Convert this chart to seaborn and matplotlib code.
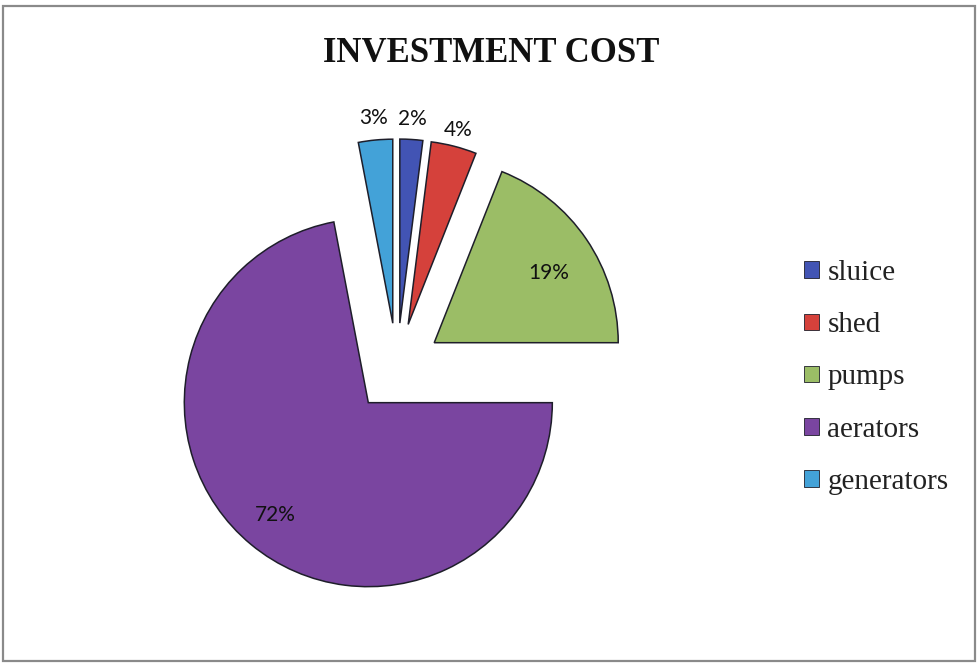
import matplotlib
matplotlib.use("Agg")
import matplotlib.pyplot as plt
from matplotlib.patches import Rectangle, Patch
import numpy as np
import seaborn as sns

# Share of the investment cost by item
items = ["sluice", "shed", "pumps", "aerators", "generators"]
shares = [2, 4, 19, 72, 3]
pct_labels = ["2%", "4%", "19%", "72%", "3%"]
colors = ["#4254B4", "#D5413B", "#9BBD66", "#7A45A0", "#43A2D8"]

sns.set_theme(style="white")
plt.rcParams["font.family"] = ["Liberation Serif", "DejaVu Serif"]

W, H = 980, 665
fig = plt.figure(figsize=(W / 100, H / 100), dpi=100)
ax = fig.add_axes([0, 0, 1, 1])

palette = sns.color_palette(colors)
radius = 184
offset = 45  # explode distance, in the same units as the radius
wedges, _ = ax.pie(
    shares,
    colors=palette,
    startangle=90,
    counterclock=False,
    radius=radius,
    center=(397, H - 368),
    explode=[offset] * len(shares),
    wedgeprops=dict(edgecolor="#1e1e2a", linewidth=1.1),
    frame=True,
)
ax.set_xlim(0, W)
ax.set_ylim(0, H)
ax.set_aspect("equal")
ax.axis("off")

# percentage labels: small slices outside, large ones inside
label_dist = [1.11, 1.09, 0.73, 0.79, 1.12]
label_turn = [0, 0, -3, 0, 0]  # small angular nudge (degrees)
for w, txt, f, t in zip(wedges, pct_labels, label_dist, label_turn):
    mid = np.deg2rad((w.theta1 + w.theta2) / 2 + t)
    cx, cy = w.center
    ax.text(cx + f * radius * np.cos(mid), cy + f * radius * np.sin(mid), txt,
            ha="center", va="center", fontsize=15, color="#111111",
            family=["Lato", "DejaVu Sans"])

fig.text(491 / W, 1 - 53 / H, "INVESTMENT COST", ha="center", va="center",
         fontsize=25, fontweight="bold", color="#111111")

handles = [Patch(facecolor=c, edgecolor="#1e1e2a", linewidth=0.6) for c in palette]
fig.legend(handles, items, loc="upper left", bbox_to_anchor=(804 / W, 1 - 260 / H),
           frameon=False, borderpad=0, borderaxespad=0, fontsize=21,
           handlelength=0.5, handleheight=0.5, handletextpad=0.3,
           labelspacing=0.9, labelcolor="#222222")

# chart border
fig.patches.append(Rectangle((3 / W, 4 / H), 972 / W, 655 / H, transform=fig.transFigure,
                             fill=False, edgecolor="#8a8a8a", linewidth=1.6))

fig.savefig("out.png", dpi=100, facecolor="white")
